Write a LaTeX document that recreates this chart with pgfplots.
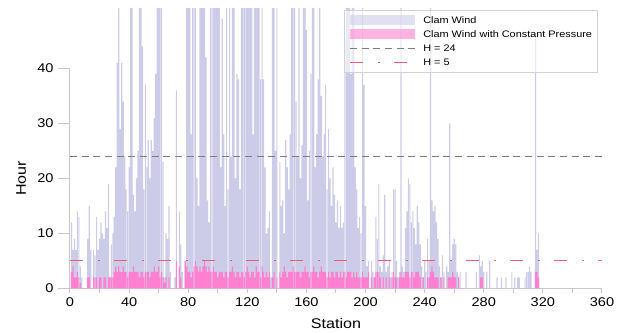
\documentclass[border=0pt]{standalone}
\usepackage{pgfplots}
\usepackage{pgfplotstable}
\pgfplotsset{compat=1.18}
\usepackage{fontspec}
\setmainfont{Liberation Sans}[FakeStretch=1.15]
\definecolor{lav}{RGB}{204,204,232}
\definecolor{pinkbar}{RGB}{255,128,208}
\definecolor{hgray}{RGB}{125,125,125}
\definecolor{hred}{RGB}{232,96,120}
\definecolor{axgray}{RGB}{200,200,200}
\tikzset{h24/.style={hgray, line width=1pt, dash pattern=on 5.25pt off 3.5pt},
         h5/.style={hred, line width=1pt, dash pattern=on 10pt off 11pt on 1.2pt off 10.8pt}}
\pgfplotstableread{
s L P
1 12 3
2 7 4
3 9 2
4 7 2
5 14 3
6 13 2
7 4 1
8 2 0
9 0 0
10 0 0
11 0 0
12 9 2
13 15 2
14 7 0
15 0 0
16 7 2
17 6 2
18 13 2
19 7 0
20 9 2
21 12 2
22 10 0
23 9 2
24 14 2
25 11 0
26 19 2
27 2 2
28 8 2
29 10 2
30 13 3
31 22 4
32 41 3
33 60 4
34 29 3
35 41 3
36 34 4
37 24 3
38 18 3
39 14 2
40 22 3
41 60 3
42 60 3
43 17 4
44 14 3
45 20 3
46 25 3
47 60 2
48 60 3
49 44 3
50 18 2
51 37 3
52 22 3
53 27 3
54 20 2
55 27 3
56 25 3
57 31 4
58 39 3
59 60 3
60 60 4
61 60 2
62 60 3
63 23 2
64 2 1
65 10 2
66 9 0
67 15 2
68 3 0
69 0 0
70 0 0
71 2 0
72 36 5
73 0 0
74 14 4
75 8 2
76 3 0
77 0 0
78 5 5
79 60 4
80 60 3
81 60 3
82 28 2
83 60 3
84 60 4
85 60 5
86 20 4
87 15 3
88 60 4
89 60 3
90 60 4
91 60 5
92 42 4
93 16 3
94 12 4
95 60 3
96 60 3
97 60 4
98 60 3
99 60 3
100 60 2
101 60 3
102 22 3
103 49 3
104 28 2
105 15 3
106 60 3
107 18 2
108 60 3
109 24 3
110 60 4
111 60 3
112 20 2
113 39 3
114 38 3
115 18 2
116 60 3
117 60 3
118 60 2
119 60 3
120 60 4
121 60 3
122 60 2
123 60 3
124 28 3
125 60 2
126 60 4
127 60 3
128 60 3
129 38 2
130 60 4
131 38 3
132 22 2
133 10 3
134 11 2
135 14 3
136 2 0
137 60 2
138 60 3
139 25 0
140 60 2
141 0 0
142 23 3
143 15 2
144 16 3
145 10 4
146 27 3
147 22 2
148 18 3
149 28 3
150 60 3
151 60 4
152 60 3
153 34 3
154 24 3
155 60 3
156 20 2
157 26 3
158 60 3
159 60 4
160 47 3
161 16 3
162 25 2
163 39 3
164 60 3
165 60 4
166 22 3
167 28 3
168 38 2
169 60 3
170 35 4
171 24 3
172 28 3
173 37 3
174 18 2
175 29 3
176 20 2
177 15 3
178 22 3
179 17 2
180 12 3
181 16 3
182 11 2
183 15 3
184 11 2
185 12 3
186 45 3
187 60 2
188 60 3
189 60 3
190 39 3
191 60 2
192 60 3
193 22 2
194 18 3
195 11 2
196 13 2
197 10 2
198 60 3
199 37 2
200 15 2
201 4 2
202 5 3
203 0 0
204 5 2
205 3 0
206 2 2
207 13 3
208 9 3
209 19 3
210 4 2
211 3 0
212 6 2
213 17 0
214 3 2
215 4 0
216 5 2
217 2 0
218 3 2
219 18 3
220 18 2
221 5 2
222 2 0
223 3 2
224 60 3
225 4 2
226 3 2
227 11 3
228 14 3
229 20 3
230 19 2
231 12 3
232 14 3
233 11 2
234 8 3
235 15 3
236 12 3
237 8 2
238 4 0
239 2 2
240 5 0
241 3 0
242 9 2
243 5 2
244 60 3
245 16 4
246 14 3
247 15 2
248 12 2
249 9 2
250 4 0
251 2 2
252 6 0
253 3 2
254 0 0
255 4 0
256 3 2
257 30 2
258 5 2
259 8 3
260 9 2
261 8 2
262 3 0
263 2 2
264 3 0
268 3 0
275 3 0
277 6 0
278 4 2
279 5 2
280 3 0
282 3 0
284 5 0
289 2 0
292 2 0
295 2 0
299 3 0
301 2 0
303 2 0
304 2 0
308 2 0
309 3 0
310 3 0
311 4 0
312 3 0
315 46 3
316 7 3
317 10 2
}\datatable
\begin{document}
\begin{tikzpicture}
\begin{axis}[
  at={(0,0)}, anchor=south west,
  scale only axis, width=399pt, height=210.2pt,
  xmin=0, xmax=360, ymin=0, ymax=51,
  axis x line=bottom, axis y line=left,
  axis line style={-, draw=axgray, line width=0.75pt},
  y axis line style={draw=none},
  xtick={0,20,...,360},
  xticklabels={0,,40,,80,,120,,160,,200,,240,,280,,320,,360},
  ytick=\empty,
  extra y ticks={0,10,20,30,40},
  extra y tick style={major tick length=8.8pt},
  minor ytick={5,15,25,35},
  tick align=outside,
  major tick length=3.75pt, minor tick length=5pt,
  tick style={draw=axgray, line width=0.75pt},
  /pgf/number format/assume math mode=true,
  tick label style={font=\fontsize{9.5}{11}\selectfont, text=black},
  xlabel={Station},
  xlabel style={font=\fontsize{10.5}{12}\selectfont, at={(axis description cs:0.5,-0.125)}, anchor=center},
  ylabel={Hour},
  ylabel style={font=\fontsize{10.5}{12}\selectfont, at={(axis description cs:-0.092,0.392)}, anchor=center},
  legend style={at={(rel axis cs:0.9925,0.9929)}, anchor=north east,
    draw=gray!35, fill=white, fill opacity=0.6, text opacity=1,
    font=\fontsize{7.1}{8}\selectfont, row sep=2pt, column sep=5.25pt,
    inner xsep=3.75pt, inner ysep=3.25pt,
    nodes={inner sep=0.5pt, text height=6pt, text depth=1.5pt}},
  legend cell align=left,
  after end axis/.code={\draw[axgray, line width=0.75pt] (axis cs:0,0) -- (axis cs:0,40);},
]
\addplot[ybar, bar width=0.8, bar shift=0pt, fill=lav, draw=none,
  legend image code/.code={\fill[lav] (0pt,-3.75pt) rectangle (48.75pt,3.75pt);}]
  table[x=s, y=L]{\datatable};
\addlegendentry{Clam Wind}
\addplot[ybar, bar width=0.8, bar shift=0pt, fill=pinkbar, draw=none,
  legend image code/.code={\fill[pinkbar] (0pt,-3.75pt) rectangle (48.75pt,3.75pt);}]
  table[x=s, y=P]{\datatable};
\addlegendentry{Clam Wind with Constant Pressure}
\addplot[h24, mark=none,
  legend image code/.code={\draw[h24] (0pt,0pt) -- (48.75pt,0pt);}]
  coordinates {(0,24) (360,24)};
\addlegendentry{H = 24}
\addplot[h5, mark=none,
  legend image code/.code={\draw[h5] (0pt,0pt) -- (48.75pt,0pt);}]
  coordinates {(0,5) (360,5)};
\addlegendentry{H = 5}
\end{axis}
\pgfresetboundingbox
\path (-52.5pt,-33.5pt) rectangle (419.25pt,216.2pt);
\end{tikzpicture}
\end{document}
